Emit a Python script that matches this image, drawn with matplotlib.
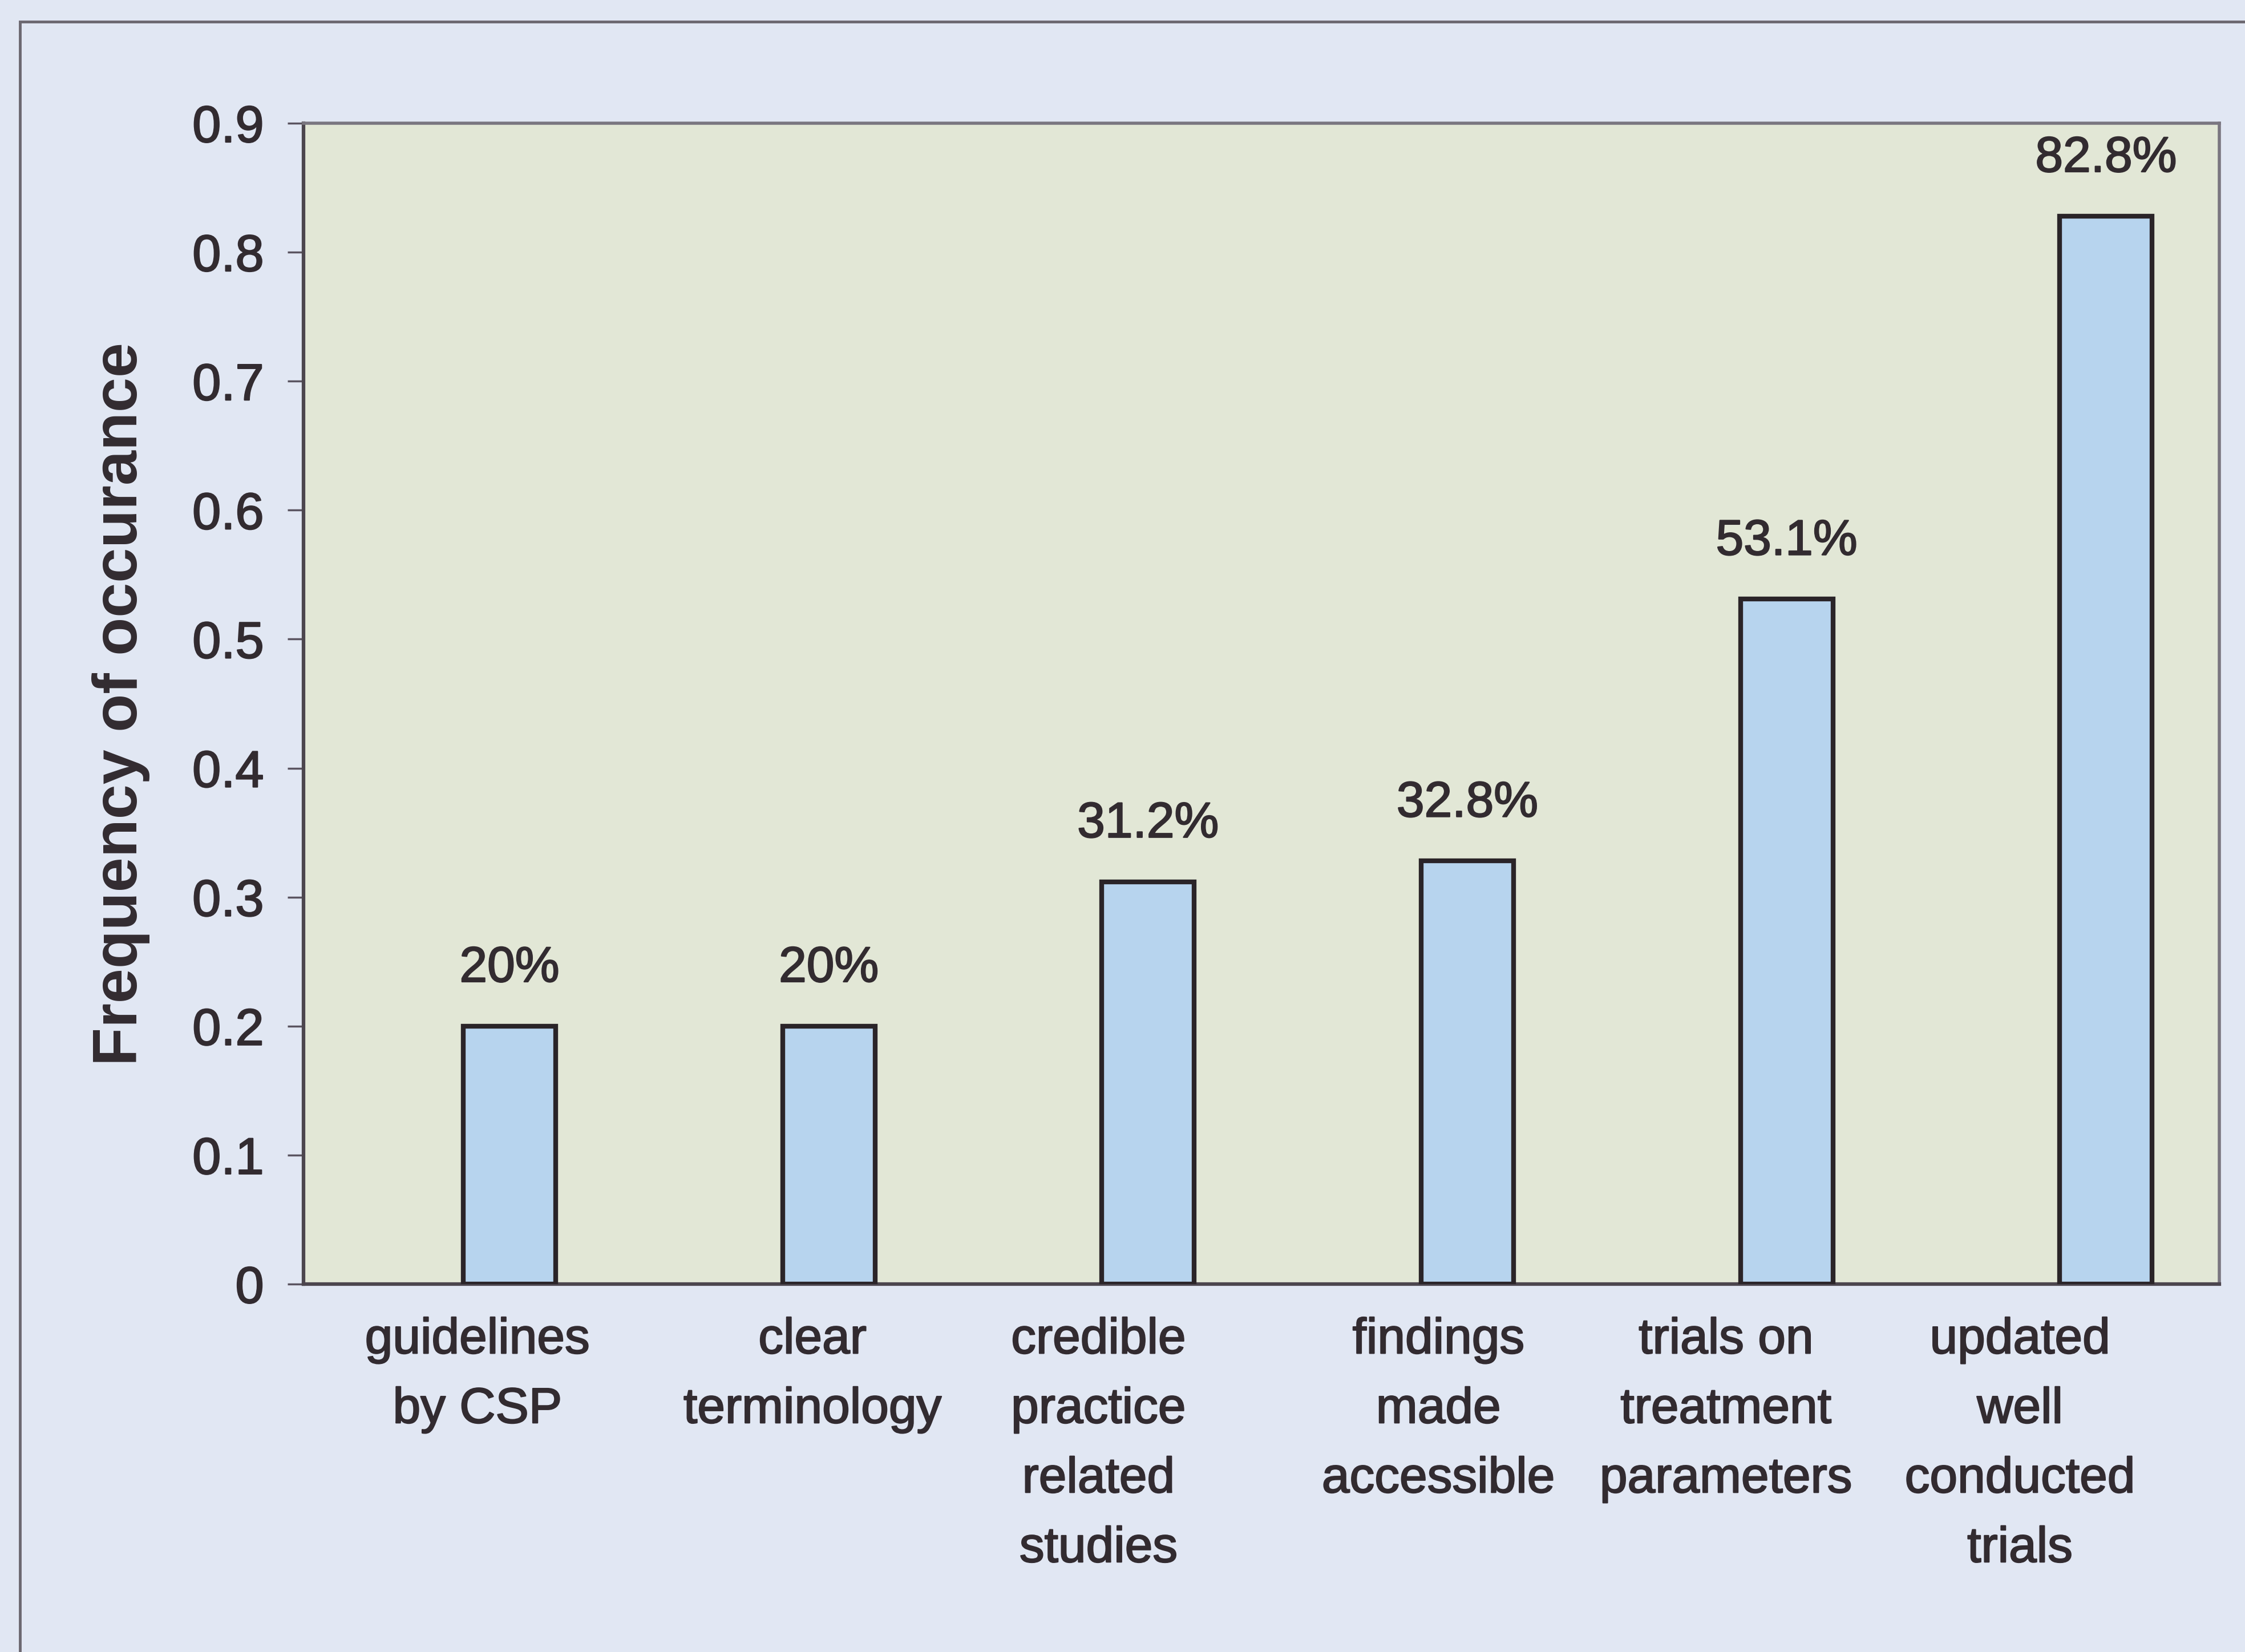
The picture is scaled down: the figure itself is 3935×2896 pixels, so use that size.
import numpy as np
import matplotlib.pyplot as plt
import matplotlib.patheffects as pe
from matplotlib.patches import Rectangle

plt.rcParams['font.family'] = ['Liberation Sans', 'DejaVu Sans']

categories = [
    "guidelines\nby CSP",
    "clear\nterminology",
    "credible\npractice\nrelated\nstudies",
    "findings\nmade\naccessible",
    "trials on\ntreatment\nparameters",
    "updated\nwell\nconducted\ntrials",
]
values = [0.20, 0.20, 0.312, 0.328, 0.531, 0.828]
value_labels = ["20%", "20%", "31.2%", "32.8%", "53.1%", "82.8%"]
yticks = [0, 0.1, 0.2, 0.3, 0.4, 0.5, 0.6, 0.7, 0.8, 0.9]
ytick_labels = ["0", "0.1", "0.2", "0.3", "0.4", "0.5", "0.6", "0.7", "0.8", "0.9"]

# sideways nudge (points) of each category label block
label_shift = [18, 38, -4, 22, -18, -50]

text_color = "#322b30"
ink = [pe.withStroke(linewidth=1.6, foreground=text_color)]

fig = plt.figure(figsize=(39.35, 28.96), dpi=100)
fig.patch.set_facecolor("#e1e7f3")

# chart-area border, running off the right and bottom edges
fig.patches.append(Rectangle((0.009, -0.05), 1.2, 0.05 + 0.987, transform=fig.transFigure,
                             fill=False, edgecolor="#6c6870", linewidth=3.5, clip_on=False))

ax = fig.add_axes([532 / 3935, 1 - 2251 / 2896, (3890 - 532) / 3935, (2251 - 216) / 2896])
ax.set_facecolor("#e2e7d6")

x = np.arange(len(categories))
# the bar sits in the right half of each category slot
ax.bar(x, values, width=0.29, align="edge", color="#b7d4ee",
       edgecolor="#2a2428", linewidth=6, zorder=3)

for xi, v, lab in zip(x, values, value_labels):
    ax.annotate(lab, (xi + 0.145, v), xytext=(0, 56), textcoords="offset points",
                ha="center", va="baseline", fontsize=63, color=text_color, path_effects=ink)

for xi, lab, dx in zip(x, categories, label_shift):
    ax.annotate(lab, (xi, 0), xycoords=("data", "axes fraction"), xytext=(dx, -42),
                textcoords="offset points", ha="center", va="top", multialignment="center",
                linespacing=1.65, fontsize=63, color=text_color, path_effects=ink)

ax.set_xlim(-0.5, 5.5)
ax.set_ylim(0, 0.9)
ax.set_yticks(yticks)
ax.set_yticklabels(ytick_labels)
ax.set_xticks([])

ax.tick_params(axis="y", length=20, width=2.5, color="#5a5460", pad=30,
               labelsize=65, labelcolor=text_color)
for t in ax.get_yticklabels():
    t.set_path_effects(ink)

ax.set_ylabel("Frequency of occurance", fontsize=79, fontweight="bold", color=text_color)
ax.yaxis.set_label_coords(-0.080, 0.5)

for side in ["left", "bottom"]:
    ax.spines[side].set_color("#4c464e")
    ax.spines[side].set_linewidth(4.5)
for side in ["top", "right"]:
    ax.spines[side].set_color("#7a7680")
    ax.spines[side].set_linewidth(4)

fig.savefig("out.png", dpi=100, facecolor=fig.get_facecolor())
